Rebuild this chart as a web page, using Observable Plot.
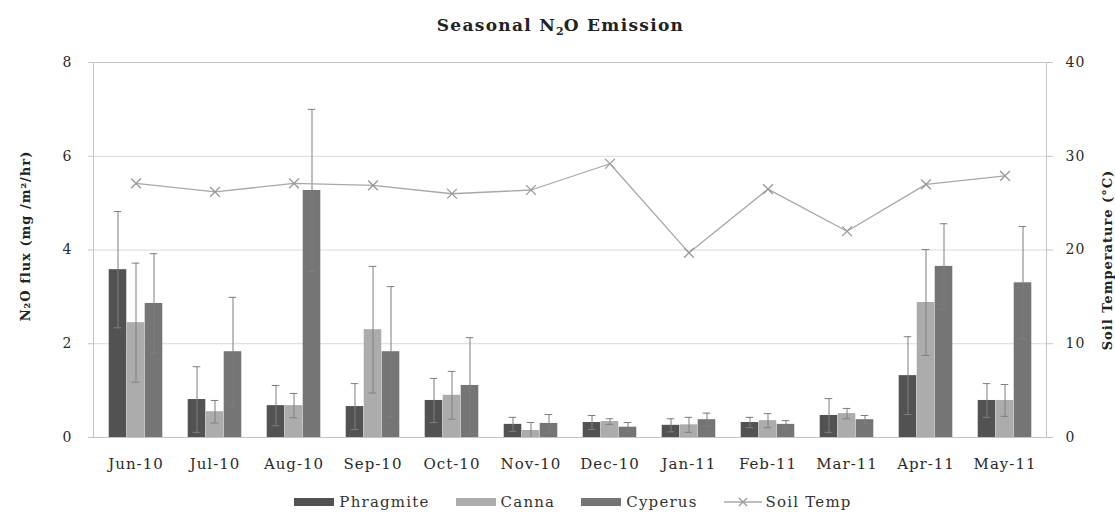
<!DOCTYPE html>
<html>
<head>
<meta charset="utf-8">
<script src="https://cdn.jsdelivr.net/npm/d3@7"></script>
<script src="https://cdn.jsdelivr.net/npm/@observablehq/plot@0.6"></script>
<style>
  html, body { margin: 0; padding: 0; background: #fff; }
  #wrap { width: 1115px; height: 513px; overflow: hidden; font-family: "DejaVu Serif", serif; color: #333; }
  #title { height: 45px; box-sizing: border-box; padding-top: 15px; padding-left: 6px; text-align: center;
           font-weight: bold; font-size: 17px; letter-spacing: 1.3px; line-height: 20px; color: #222; }
  #title sub { font-size: 11px; line-height: 0; vertical-align: -4px; letter-spacing: 0; }
  #legend { height: 36px; box-sizing: border-box; padding-top: 14px; padding-left: 31px; display: flex;
            justify-content: center; align-items: center; font-size: 15px; letter-spacing: 1.2px; color: #333; }
  .item { display: flex; align-items: center; margin: 0 13px; }
  .sw { display: inline-block; width: 40px; height: 8px; margin-right: 5px; }
  .item svg { margin-right: 4px; }
</style>
</head>
<body>
<div id="wrap">
  <div id="title">Seasonal N<sub>2</sub>O Emission</div>
  <div id="chart"></div>
  <div id="legend"></div>
</div>
<script>
// ---- data ----
const months = ["Jun-10","Jul-10","Aug-10","Sep-10","Oct-10","Nov-10","Dec-10","Jan-11","Feb-11","Mar-11","Apr-11","May-11"];
const seriesNames = ["Phragmite","Canna","Cyperus"];
const phragmite    = [3.58,0.81,0.68,0.66,0.79,0.28,0.32,0.26,0.32,0.47,1.32,0.79];
const phragmiteErr = [1.24,0.70,0.43,0.49,0.47,0.15,0.15,0.14,0.11,0.36,0.83,0.36];
const canna        = [2.45,0.55,0.68,2.30,0.90,0.15,0.34,0.27,0.36,0.51,2.88,0.79];
const cannaErr     = [1.27,0.24,0.26,1.35,0.51,0.17,0.06,0.16,0.15,0.11,1.13,0.34];
const cyperus      = [2.86,1.83,5.27,1.83,1.11,0.30,0.22,0.38,0.28,0.38,3.65,3.30];
const cyperusErr   = [1.06,1.16,1.73,1.39,1.02,0.19,0.10,0.14,0.08,0.09,0.91,1.20];
const soilTemp     = [27.1,26.2,27.1,26.9,26.0,26.4,29.2,19.7,26.5,22.0,27.0,27.9];
const fluxTicks = [0,2,4,6,8];
const tempTicks = [0,10,20,30,40];
const tempLabel = "Soil Temperature (°C)";
const fluxLabel = "N₂O flux (mg /m²/hr)";

// ---- styling ----
const colors = ["#525252","#acacac","#757575"];
const W = 1115, H = 432, mL = 93, mR = 69, mT = 17, mB = 40;
const band = (W - mL - mR) / months.length;
const barW = 18;
const inset = (band - barW) / 2;
const capHalf = 4;
const ratio = tempTicks[tempTicks.length-1] / fluxTicks[fluxTicks.length-1];

const valuesBy = [phragmite, canna, cyperus];
const errBy = [phragmiteErr, cannaErr, cyperusErr];
const tables = seriesNames.map((name, i) => months.map((m, j) => ({month: m, series: name, value: valuesBy[i][j], err: errBy[i][j]})));
const tempRows = months.map((m, j) => ({month: m, temp: soilTemp[j]}));

const marks = [
  Plot.gridY(fluxTicks, {stroke: "#d9d9d9", strokeOpacity: 1})
];
tables.forEach((rows, i) => {
  const dx = (i - 1) * barW;
  marks.push(Plot.barY(rows, {x: "month", y: "value", fill: colors[i], insetLeft: inset, insetRight: inset, dx}));
});
tables.forEach((rows, i) => {
  const dx = (i - 1) * barW;
  const lo = d => Math.max(0, d.value - d.err), hi = d => d.value + d.err;
  marks.push(Plot.ruleX(rows, {x: "month", y1: lo, y2: hi, dx, stroke: "#7f7f7f", strokeWidth: 1}));
  marks.push(Plot.tickY(rows, {x: "month", y: hi, dx, stroke: "#7f7f7f", insetLeft: band/2 - capHalf, insetRight: band/2 - capHalf}));
  marks.push(Plot.tickY(rows.filter(d => d.value - d.err > 0), {x: "month", y: lo, dx, stroke: "#7f7f7f", insetLeft: band/2 - capHalf, insetRight: band/2 - capHalf}));
});
marks.push(
  Plot.lineY(tempRows, {x: "month", y: d => d.temp / ratio, stroke: "#a8a8a8", strokeWidth: 1.3}),
  Plot.dot(tempRows, {x: "month", y: d => d.temp / ratio, symbol: "times", r: 4.5, stroke: "#999", strokeWidth: 1.3}),
  Plot.frame({stroke: "#c4c4c4"}),
  Plot.axisX({tickSize: 0, tickPadding: 21, label: null, fontSize: 15, fill: "#2a2a2a"}),
  Plot.axisY({anchor: "left", ticks: fluxTicks, tickSize: 5, tickPadding: 16, label: null, stroke: "#c4c4c4", fill: "#2a2a2a"}),
  Plot.axisY({anchor: "right", ticks: tempTicks.map(t => t / ratio), tickFormat: d => String(Math.round(d * ratio)), tickSize: 6, tickPadding: 13, label: null, stroke: "#c4c4c4", fill: "#2a2a2a"}),
  Plot.text([fluxLabel], {frameAnchor: "left", textAnchor: "middle", dx: -68, dy: -14, rotate: -90, fontWeight: "bold", fontSize: 13, fill: "#222"}),
  Plot.text([tempLabel], {frameAnchor: "right", textAnchor: "middle", dx: 61, dy: 10, rotate: -90, fontWeight: "bold", fontSize: 13, fill: "#222"})
);

const chart = Plot.plot({
  width: W, height: H,
  marginLeft: mL, marginRight: mR, marginTop: mT, marginBottom: mB,
  x: {type: "band", domain: months, padding: 0},
  y: {domain: [0, fluxTicks[fluxTicks.length-1]], nice: false},
  style: {fontFamily: "DejaVu Serif, serif", fontSize: "14px", letterSpacing: "1px", background: "white", overflow: "visible"},
  marks
});
document.getElementById("chart").appendChild(chart);

// ---- legend ----
const legend = document.getElementById("legend");
seriesNames.forEach((name, i) => {
  const it = document.createElement("div");
  it.className = "item";
  it.innerHTML = `<span class="sw" style="background:${colors[i]}"></span><span>${name}</span>`;
  legend.appendChild(it);
});
const t = document.createElement("div");
t.className = "item";
t.innerHTML = `<svg width="38" height="12"><line x1="0" y1="6" x2="38" y2="6" stroke="#a8a8a8" stroke-width="1.3"/><path d="M15,2L23,10M23,2L15,10" stroke="#999" stroke-width="1.3"/></svg><span>Soil Temp</span>`;
legend.appendChild(t);
</script>
</body>
</html>
